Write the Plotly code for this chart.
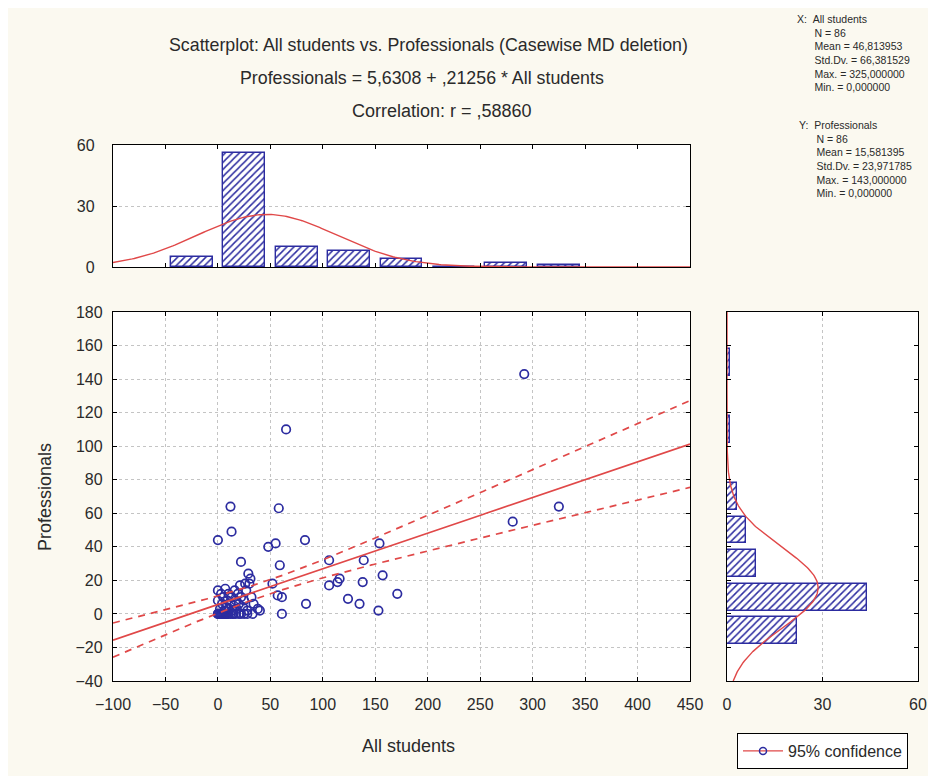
import numpy as np
import plotly.graph_objects as go

# ---------------- data ----------------
all_students = [
    # y = 0 cluster
    0, 0, 1, 2, 3, 4, 5, 6, 7, 8, 9, 10, 12, 14, 15, 17, 20, 22, 25, 28, 33,
    # low cluster
    0, 0, 2, 3, 4, 5, 6, 7, 8, 9, 10, 11, 12, 13, 14, 15, 16, 17, 18, 19, 20,
    21, 22, 24, 25, 27, 28, 30, 32, 34, 38, 40, 26,
    # other x <= 50
    12, 13, 0, 22, 29, 31, 48,
    # x > 50
    58, 65, 55, 83, 59, 57, 61, 61, 84, 52, 106, 116, 114, 106, 139, 138, 124,
    135, 154, 157, 171, 153, 292, 281, 325,
]
professionals = [
    0, 0, 0, 0, 0, 0, 0, 0, 0, 0, 0, 0, 0, 0, 0, 0, 0, 0, 0, 0, 0,
    8, 14, 3, 12, 6, 10, 2, 15, 4, 8, 12, 3, 6, 10, 2, 5, 14, 8, 3, 12, 6,
    17, 10, 4, 8, 14, 2, 18, 10, 6, 3, 2, 18,
    64, 49, 44, 31, 24, 21, 40,
    63, 110, 42, 44, 29, 11, 10, 0, 6, 18, 32, 21, 19, 17, 32, 19, 9,
    6, 42, 23, 12, 2, 143, 55, 64,
]

x_hist_centers = [-25, 25, 75, 125, 175, 225, 275, 325]
x_hist_counts = [5, 56, 10, 8, 4, 0, 2, 1]
y_hist_centers = [-10, 10, 30, 50, 70, 90, 110, 130, 150]
y_hist_counts = [22, 44, 9, 6, 3, 0, 1, 0, 1]

N = 86
X_MEAN, X_SD, X_MAX, X_MIN = 46.813953, 66.381529, 325.0, 0.0
Y_MEAN, Y_SD, Y_MAX, Y_MIN = 15.581395, 23.971785, 143.0, 0.0
INTERCEPT, SLOPE, R = 5.6308, 0.21256, 0.58860
T_CRIT = 1.9886
X_BIN, Y_BIN = 50, 20

# ---------------- derived curves ----------------
xs = np.linspace(-100, 450, 300)
y_fit = INTERCEPT + SLOPE * xs
s_res = Y_SD * np.sqrt((1 - R ** 2) * (N - 1) / (N - 2))
se = s_res * np.sqrt(1.0 / N + (xs - X_MEAN) ** 2 / ((N - 1) * X_SD ** 2))
upper = y_fit + T_CRIT * se
lower = y_fit - T_CRIT * se

def npdf(v, m, s):
    return np.exp(-0.5 * ((v - m) / s) ** 2) / (s * np.sqrt(2 * np.pi))

x_curve = N * X_BIN * npdf(xs, X_MEAN, X_SD)
ys = np.linspace(-40, 180, 300)
y_curve = N * Y_BIN * npdf(ys, Y_MEAN, Y_SD)

# ---------------- figure ----------------
OFF = 8                      # page body margin
W, H = 936 - OFF, 776 - OFF
RED = "#e04848"
BLUE = "#2c2ca0"
FONT = "Liberation Sans, Arial, sans-serif"
TXT = "#2a2a2a"

def px(x):
    return (x - OFF) / W

def py(y):
    return (H - (y - OFF)) / H

fig = go.Figure()

# scatter points
fig.add_trace(go.Scatter(
    x=all_students, y=professionals, mode="markers",
    marker=dict(symbol="circle-open", size=8.5, color=BLUE, line=dict(width=1.7, color=BLUE)),
    xaxis="x", yaxis="y", showlegend=False, hoverinfo="x+y"))
# regression + confidence bands
fig.add_trace(go.Scatter(x=xs, y=y_fit, mode="lines", line=dict(color=RED, width=1.7),
                         xaxis="x", yaxis="y", showlegend=False))
fig.add_trace(go.Scatter(x=xs, y=upper, mode="lines", line=dict(color=RED, width=1.7, dash="7px,6px"),
                         xaxis="x", yaxis="y", showlegend=False))
fig.add_trace(go.Scatter(x=xs, y=lower, mode="lines", line=dict(color=RED, width=1.7, dash="7px,6px"),
                         xaxis="x", yaxis="y", showlegend=False))
# legend entry
fig.add_trace(go.Scatter(x=[None], y=[None], mode="lines+markers", name="95% confidence",
                         line=dict(color=RED, width=1.4),
                         marker=dict(symbol="circle-open", size=7, color=BLUE, line=dict(width=1.5, color=BLUE)),
                         xaxis="x", yaxis="y", showlegend=True))

hatch = dict(shape="/", fgcolor=BLUE, bgcolor="white", size=5, solidity=0.3)
# top histogram
fig.add_trace(go.Bar(x=x_hist_centers, y=x_hist_counts, width=40,
                     marker=dict(color="white", pattern=hatch, line=dict(color=BLUE, width=1.4)),
                     xaxis="x2", yaxis="y2", showlegend=False))
fig.add_trace(go.Scatter(x=xs, y=x_curve, mode="lines", line=dict(color=RED, width=1.4),
                         xaxis="x2", yaxis="y2", showlegend=False))
# right histogram
fig.add_trace(go.Bar(y=y_hist_centers, x=y_hist_counts, width=16, orientation="h",
                     marker=dict(color="white", pattern=hatch, line=dict(color=BLUE, width=1.4)),
                     xaxis="x3", yaxis="y3", showlegend=False))
fig.add_trace(go.Scatter(x=y_curve, y=ys, mode="lines", line=dict(color=RED, width=1.4),
                         xaxis="x3", yaxis="y3", showlegend=False))

axis_common = dict(showline=True, linecolor="black", linewidth=1.3, mirror="ticks",
                   ticks="inside", ticklen=4, tickcolor="black", zeroline=False,
                   gridcolor="#c4c4c4", griddash="dot", gridwidth=1, automargin=False,
                   tickfont=dict(family=FONT, size=16, color=TXT))

sc_x = [px(113), px(690)]
sc_y = [py(681), py(312)]
top_y = [py(267), py(145)]
rh_x = [px(727), px(918)]

fig.update_layout(
    template=None,
    width=W, height=H, autosize=False,
    margin=dict(l=0, r=0, t=0, b=0, pad=0, autoexpand=False),
    paper_bgcolor="#fbf9f0", plot_bgcolor="white",
    bargap=0,
    xaxis=dict(domain=sc_x, range=[-100, 450], tickvals=list(range(-100, 451, 50)),
               anchor="y", showgrid=True, ticklabelstandoff=9, **axis_common),
    yaxis=dict(domain=sc_y, range=[-40, 180], tickvals=list(range(-40, 181, 20)),
               anchor="x", showgrid=True, ticklabelstandoff=6, **axis_common),
    xaxis2=dict(domain=sc_x, range=[-100, 450], tickvals=list(range(-100, 451, 50)),
                anchor="y2", showgrid=False, showticklabels=False, **axis_common),
    yaxis2=dict(domain=top_y, range=[0, 60], tickvals=[0, 30, 60],
                anchor="x2", showgrid=True, ticklabelstandoff=14, **axis_common),
    xaxis3=dict(domain=rh_x, range=[0, 60], tickvals=[0, 30, 60],
                anchor="y3", showgrid=True, ticklabelstandoff=9, **axis_common),
    yaxis3=dict(domain=sc_y, range=[-40, 180], tickvals=list(range(-40, 181, 20)),
                anchor="x3", showgrid=False, showticklabels=False, **axis_common),
    legend=dict(x=px(737), y=py(733), xanchor="left", yanchor="top",
                bgcolor="white", bordercolor="black", borderwidth=1,
                font=dict(family=FONT, size=16, color=TXT), itemwidth=40),
    showlegend=True,
)

def note(text, x, y, size, xanchor="center", angle=0, align="center"):
    fig.add_annotation(text=text, x=px(x), y=py(y), xref="paper", yref="paper",
                       xanchor=xanchor, yanchor="middle", showarrow=False, textangle=angle,
                       align=align, font=dict(family=FONT, size=size, color=TXT))

note("Scatterplot: All students vs. Professionals (Casewise MD deletion)", 428, 45, 17.8)
note("Professionals = 5,6308 + ,21256 * All students", 422, 78, 17.8)
note("Correlation: r = ,58860", 442, 111, 18)
note("All students", 408, 746, 18)
note("Professionals", 45, 497, 18, angle=-90)

def fmt(v, d=6):
    return f"{v:.{d}f}".replace(".", ",")

IND = "&nbsp;" * 6
stats_x = ["X:&nbsp;&nbsp;All students", f"{IND}N = {N}", f"{IND}Mean = {fmt(X_MEAN)}",
           f"{IND}Std.Dv. = {fmt(X_SD)}", f"{IND}Max. = {fmt(X_MAX)}", f"{IND}Min. = {fmt(X_MIN)}"]
stats_y = ["Y:&nbsp;&nbsp;Professionals", f"{IND}N = {N}", f"{IND}Mean = {fmt(Y_MEAN)}",
           f"{IND}Std.Dv. = {fmt(Y_SD)}", f"{IND}Max. = {fmt(Y_MAX)}", f"{IND}Min. = {fmt(Y_MIN)}"]
note("<br>".join(stats_x), 795, 53, 10.5, xanchor="left", align="left")
note("<br>".join(stats_y), 797, 159, 10.5, xanchor="left", align="left")

fig.write_html("out.html")
